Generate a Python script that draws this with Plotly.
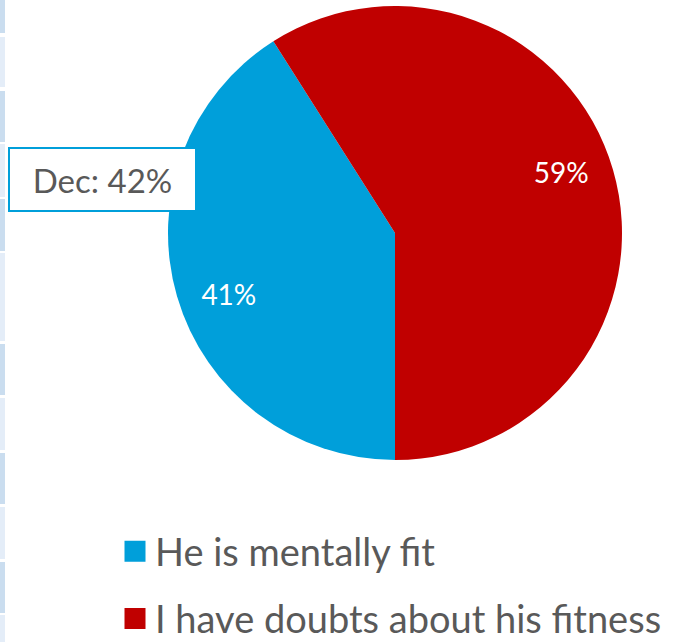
import plotly.graph_objects as go

# data
labels = ["He is mentally fit", "I have doubts about his fitness"]
values = [41, 59]
colors = ["#009FDA", "#C00000"]
callout = "Dec: 42%"

FONT = "Lato"
W, H = 686, 642
pie_domain = dict(x=[168 / W, 622 / W], y=[1 - 460 / H, 1 - 6 / H])

fig = go.Figure()

# solid pie
fig.add_trace(go.Pie(
    labels=labels, values=values, sort=False,
    direction="clockwise", rotation=180,
    marker=dict(colors=colors, line=dict(width=0)),
    textinfo="none", showlegend=False, hoverinfo="label+percent",
    domain=pie_domain,
))

# transparent ring on top, only to push the percent labels out towards the rim
fig.add_trace(go.Pie(
    labels=labels, values=values, sort=False,
    direction="clockwise", rotation=176, hole=0.56,
    marker=dict(colors=["rgba(0,0,0,0)"] * len(values), line=dict(width=0)),
    texttemplate="%{percent:.0%}",
    textposition="inside", insidetextorientation="horizontal",
    textfont=dict(family=FONT, size=28, color="white"),
    showlegend=False, hoverinfo="skip",
    domain=pie_domain,
))

# legend entries
for i, (lab, col) in enumerate(zip(labels, colors)):
    fig.add_trace(go.Scatter(
        x=[None], y=[None], mode="markers", name=lab, legendgroup=str(i),
        marker=dict(symbol="square", size=16, color=col, line=dict(width=8, color=col)),
    ))

# decorative table edge on the far left
edges = [(0, 33, "#CADDEF"), (37, 87, "#E4EDF8"), (91, 142, "#CADDEF"),
         (144, 197, "#E4EDF8"), (199, 251, "#CADDEF"), (253, 341, "#E4EDF8"),
         (344, 395, "#CADDEF"), (398, 450, "#E4EDF8"), (453, 504, "#CADDEF"),
         (507, 559, "#E4EDF8"), (562, 613, "#CADDEF"), (615, 642, "#E4EDF8")]
shapes = []
for y0, y1, c in edges:
    shapes.append(dict(type="rect", xref="paper", yref="paper",
                       x0=0, x1=5 / W, y0=1 - y1 / H, y1=1 - y0 / H,
                       fillcolor=c, line=dict(width=0), layer="below"))

fig.update_layout(
    width=W, height=H,
    margin=dict(l=0, r=0, t=0, b=0, autoexpand=False),
    paper_bgcolor="white", plot_bgcolor="white",
    xaxis=dict(visible=False), yaxis=dict(visible=False),
    shapes=shapes,
    showlegend=True,
    legend=dict(
        x=115 / W, xanchor="left", y=1 - 520 / H, yanchor="top",
        traceorder="grouped", tracegroupgap=15,
        font=dict(family=FONT, size=38, color="#595959"),
        bgcolor="rgba(0,0,0,0)",
    ),
    annotations=[dict(
        text=callout, xref="paper", yref="paper",
        x=8 / W, y=1 - 147 / H, xanchor="left", yanchor="top",
        showarrow=False, align="center", width=173, height=49,
        font=dict(family=FONT, size=33, color="#595959"),
        bgcolor="white", bordercolor="#009FDA", borderwidth=2, borderpad=6,
    )],
)

fig.write_html("out.html", config={"displayModeBar": False},
               post_script="document.body.style.margin='0';")
